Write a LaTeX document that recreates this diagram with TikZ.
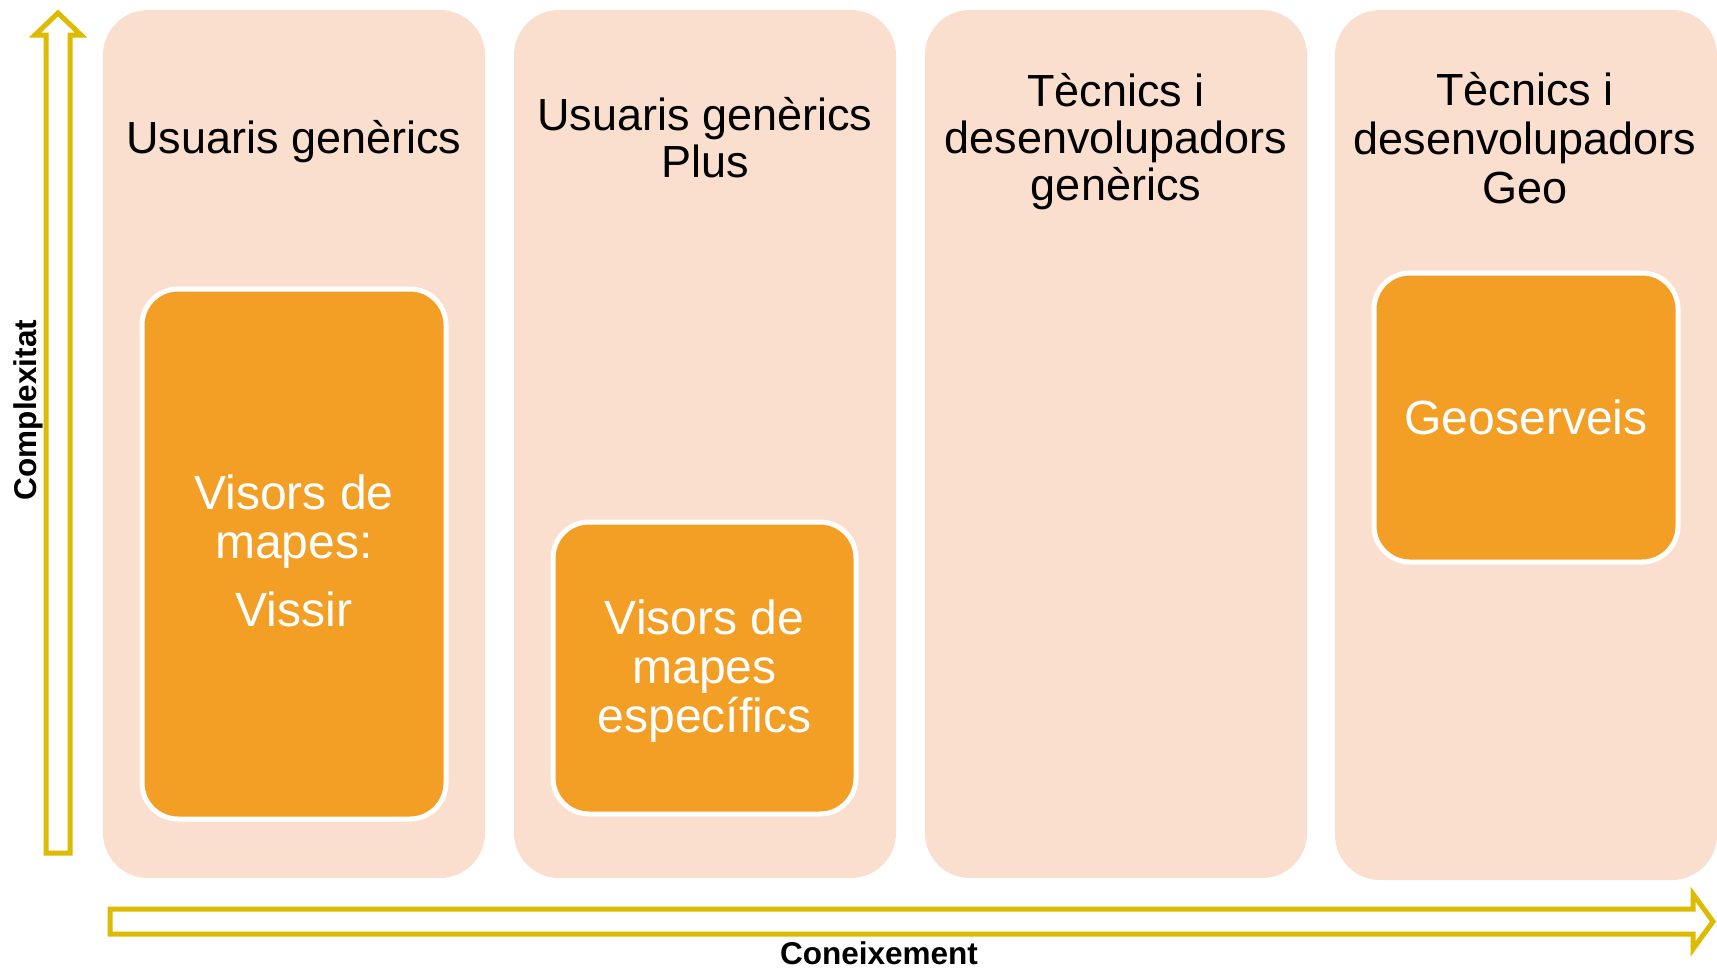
\documentclass[tikz,border=0pt]{standalone}
\usepackage{fontspec}
\setmainfont{Liberation Sans}
\definecolor{colfill}{RGB}{250,223,207}
\definecolor{boxfill}{RGB}{243,159,37}
\definecolor{arrowcol}{RGB}{221,187,0}
\begin{document}
\begin{tikzpicture}[x=1pt,y=-1pt,
  column/.style={fill=colfill,draw=none,rounded corners=45pt},
  inner/.style={fill=boxfill,draw=white,line width=5pt,rounded corners=36pt},
  coltitle/.style={align=center,font=\fontsize{45}{47}\selectfont,text=black,inner sep=0pt},
  boxtext/.style={align=center,font=\fontsize{48}{49}\selectfont,text=white,inner sep=0pt},
  axislabel/.style={font=\fontsize{31.5}{34}\selectfont\bfseries,text=black,inner sep=0pt},
  axisarrow/.style={draw=arrowcol,line width=5pt,fill=white,miter limit=10}]
\useasboundingbox (0,0) rectangle (1717,969);
% columns
\fill[column] (103,10) rectangle (485,878);
\fill[column] (514,10) rectangle (896,878);
\fill[column] (925,10) rectangle (1307,878);
\fill[column] (1335,10) rectangle (1717,880);
% titles
\node[coltitle] (t1) at (294,142) {Usuaris genèrics};
\node[coltitle] (t2) at (705,138) {Usuaris genèrics\\Plus};
\node[coltitle] (t3) at (1116,142) {Tècnics i\\desenvolupadors\\genèrics};
\node[coltitle,font=\fontsize{45}{49}\selectfont] (t4) at (1525,138) {Tècnics i\\desenvolupadors\\Geo};
% inner boxes
\draw[inner] (142,289) rectangle (446,819);
\node[boxtext] (b1) at (294,551) {Visors de\\mapes:\\[19pt]Vissir};
\draw[inner] (553,522) rectangle (856,814);
\node[boxtext] (b2) at (704.5,671) {Visors de\\mapes\\específics};
\draw[inner] (1374,273) rectangle (1678,562);
\node[boxtext] (b4) at (1526,417.5) {Geoserveis};
% axes
\draw[axisarrow] (46,853) -- (46,35) -- (35,35) -- (58,13) -- (81,35) -- (70,35) -- (70,853) -- cycle;
\draw[axisarrow] (110,909) -- (1693,909) -- (1693,894) -- (1713,921.5) -- (1693,949) -- (1693,934) -- (110,934) -- cycle;
\node[axislabel,rotate=90] (ylab) at (28,410) {Complexitat};
\node[axislabel] (xlab) at (879,953) {Coneixement};
\end{tikzpicture}
\end{document}
